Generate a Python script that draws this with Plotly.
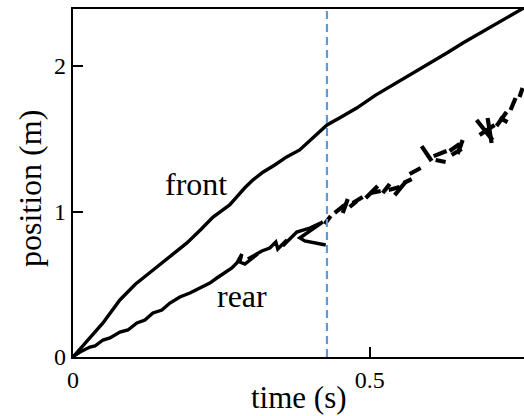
import plotly.graph_objects as go

# Front marker track: time (s) and position (m)
front_t = [0.0, 0.012, 0.030, 0.0505, 0.079, 0.105, 0.135, 0.165, 0.192, 0.215,
           0.236, 0.252, 0.264, 0.276, 0.290, 0.303, 0.320, 0.340, 0.360, 0.382,
           0.405, 0.428, 0.452, 0.478, 0.510, 0.545, 0.572, 0.601, 0.630, 0.657,
           0.685, 0.714, 0.735, 0.760]
front_y = [0.0, 0.055, 0.135, 0.234, 0.392, 0.500, 0.598, 0.695, 0.784, 0.875,
           0.962, 1.010, 1.045, 1.100, 1.165, 1.216, 1.270, 1.320, 1.375, 1.423,
           1.510, 1.595, 1.650, 1.711, 1.800, 1.883, 1.950, 2.020, 2.090, 2.158,
           2.225, 2.296, 2.345, 2.400]

# Rear marker track before the event (one continuous, noisy trace)
rear_pre_t = [0.0017, 0.0118, 0.0286, 0.0370, 0.0505, 0.0623, 0.0791, 0.0926, 0.1077, 0.1212,
              0.1347, 0.1498, 0.1633, 0.1801, 0.1970, 0.2138, 0.2306, 0.2424, 0.2559, 0.2677,
              0.2761, 0.2845, 0.2811, 0.2896, 0.3114, 0.2946, 0.3182, 0.3316, 0.3418, 0.3451,
              0.3603, 0.3535, 0.3771, 0.3990, 0.4209, 0.4024, 0.3822, 0.3906, 0.4074, 0.4259]
rear_pre_y = [0.0069, 0.0344, 0.0687, 0.0756, 0.1168, 0.1306, 0.1718, 0.1856, 0.2337, 0.2543,
              0.3024, 0.3230, 0.3711, 0.4124, 0.4399, 0.4742, 0.5086, 0.5430, 0.5773, 0.6117,
              0.6460, 0.7079, 0.6529, 0.6392, 0.7079, 0.6735, 0.7285, 0.7491, 0.7904, 0.7423,
              0.8041, 0.7629, 0.8591, 0.8866, 0.9278, 0.8729, 0.8179, 0.7973, 0.7835, 0.7698]

# Rear marker track after the event: short broken segments (start, end)
rear_seg_t = [(0.4242, 0.4343), (0.4411, 0.4579), (0.4545, 0.4630), (0.4663, 0.4781),
              (0.4714, 0.4882), (0.4933, 0.5135), (0.5017, 0.5185), (0.5219, 0.5337),
              (0.5320, 0.5505), (0.5421, 0.5589), (0.5572, 0.5707), (0.5673, 0.5859),
              (0.5875, 0.6044), (0.6077, 0.6296), (0.6111, 0.6279), (0.6347, 0.6515),
              (0.6380, 0.6549), (0.6481, 0.6566), (0.6801, 0.7071), (0.6987, 0.7054),
              (0.6852, 0.7104), (0.7138, 0.7306), (0.7189, 0.7323), (0.7374, 0.7458),
              (0.7525, 0.7576)]
rear_seg_y = [(0.914, 0.969), (0.990, 1.045), (0.990, 1.086), (1.031, 1.072),
              (1.058, 1.100), (1.093, 1.175), (1.127, 1.141), (1.127, 1.189),
              (1.148, 1.168), (1.113, 1.196), (1.196, 1.223), (1.258, 1.299),
              (1.450, 1.347), (1.381, 1.416), (1.354, 1.340), (1.416, 1.464),
              (1.388, 1.430), (1.395, 1.491), (1.629, 1.491), (1.643, 1.471),
              (1.526, 1.595), (1.588, 1.684), (1.643, 1.615), (1.698, 1.780),
              (1.787, 1.849)]

event_t = 0.428
x_ticks = [0, 0.5]
x_tick_labels = ["0", "0.5"]
y_ticks = [0, 1, 2]
y_tick_labels = ["0", "1", "2"]

FONT = "Liberation Serif"

seg_t, seg_y = [], []
for (t0, t1), (y0, y1) in zip(rear_seg_t, rear_seg_y):
    seg_t += [t0, t1, None]
    seg_y += [y0, y1, None]

fig = go.Figure()
fig.add_trace(go.Scatter(x=rear_pre_t, y=rear_pre_y, mode="lines",
                         line=dict(color="black", width=3.4), hoverinfo="skip"))
fig.add_trace(go.Scatter(x=seg_t, y=seg_y, mode="lines", connectgaps=False,
                         line=dict(color="black", width=4.2), hoverinfo="skip"))
fig.add_trace(go.Scatter(x=front_t, y=front_y, mode="lines",
                         line=dict(color="black", width=3.4), hoverinfo="skip"))

fig.add_shape(type="line", xref="x", yref="paper", x0=event_t, x1=event_t, y0=0, y1=1,
              line=dict(color="#5b9bd8", width=2.2, dash="8px,5px"))

fig.add_annotation(x=0.207, y=1.19, text="front", showarrow=False,
                   font=dict(family=FONT, size=32, color="black"))
fig.add_annotation(x=0.285, y=0.42, text="rear", showarrow=False,
                   font=dict(family=FONT, size=32, color="black"))

# Axis titles placed in pixel offsets from the plot edges
fig.add_annotation(xref="paper", yref="paper", x=0.5, y=0, yshift=-40,
                   xanchor="center", yanchor="middle", text="time (s)",
                   showarrow=False, font=dict(family=FONT, size=31, color="black"))
fig.add_annotation(xref="paper", yref="paper", x=0, y=0.5, xshift=-43, yshift=-6,
                   xanchor="center", yanchor="middle",
                   text="position (m)", textangle=-90, showarrow=False,
                   font=dict(family=FONT, size=32, color="black"))

axis_common = dict(showgrid=False, zeroline=False, showline=True, linecolor="black",
                   linewidth=2.2, ticks="inside", tickcolor="black", tickwidth=1.6,
                   ticklen=10, tickfont=dict(family=FONT, size=24, color="black"))

fig.update_xaxes(range=[0, 0.760], tickvals=x_ticks, ticktext=x_tick_labels,
                 mirror=True, **axis_common)
fig.update_yaxes(range=[0, 2.392], tickvals=y_ticks, ticktext=y_tick_labels,
                 **axis_common)

fig.update_layout(width=524, height=416, showlegend=False,
                  margin=dict(l=73, r=0, t=9, b=59),
                  plot_bgcolor="white", paper_bgcolor="white")

fig.write_html("out.html")
